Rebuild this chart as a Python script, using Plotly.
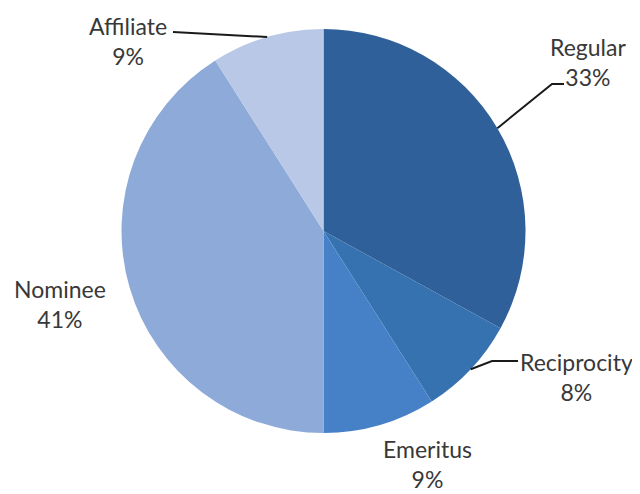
import math
import plotly.graph_objects as go

categories = ["Regular", "Reciprocity", "Emeritus", "Nominee", "Affiliate"]
values = [33, 8, 9, 41, 9]
colors = ["#30609a", "#3671b0", "#4681c8", "#8eaad8", "#b8c8e6"]

W, H = 640, 494
OFF = 8  # page body margin
CX, CY, R = 323.5, 231, 202

def px(x):
    return (x - OFF) / W

def py(y):
    return 1 - (y - OFF) / H

fig = go.Figure(go.Pie(
    labels=categories, values=values, sort=False, direction="clockwise",
    rotation=0, marker=dict(colors=colors, line=dict(width=0)),
    textinfo="none", hoverinfo="label+percent", showlegend=False,
    domain=dict(x=[px(CX - R), px(CX + R)], y=[py(CY + R), py(CY - R)]),
))

total = sum(values)
# label block centre (pixels), leader-line points (pixels)
label_pos = {
    "Regular": ((588, 62), [(564, 84), (552, 84)]),
    "Reciprocity": ((576, 377), [(518, 361), (492, 361)]),
    "Emeritus": ((427, 464), []),
    "Nominee": ((60, 304), []),
    "Affiliate": ((128, 41), [(173, 32)]),
}

font = dict(family="Lato, Carlito, sans-serif", size=23, color="#383838")
annotations = []
shapes = []
cum = 0
for cat, v in zip(categories, values):
    mid = (cum + v / 2) / total * 2 * math.pi
    cum += v
    ex = CX + R * math.sin(mid)
    ey = CY - R * math.cos(mid)
    (tx, ty), pts = label_pos[cat]
    pct = round(v / total * 100)
    annotations.append(dict(
        x=px(tx), y=py(ty), xref="paper", yref="paper", showarrow=False,
        text=f"{cat}<br>{pct}%", align="center", font=font,
        xanchor="center", yanchor="middle", borderpad=0,
    ))
    if pts:
        pts = pts + [(ex, ey)]
        path = "M " + " L ".join(f"{px(a)},{py(b)}" for a, b in pts)
        shapes.append(dict(type="path", path=path, xref="paper", yref="paper",
                           line=dict(color="#1a1a1a", width=2)))

fig.update_layout(
    width=W, height=H, margin=dict(l=0, r=0, t=0, b=0),
    paper_bgcolor="white", plot_bgcolor="white",
    annotations=annotations, shapes=shapes,
)

fig.write_html("out.html")
